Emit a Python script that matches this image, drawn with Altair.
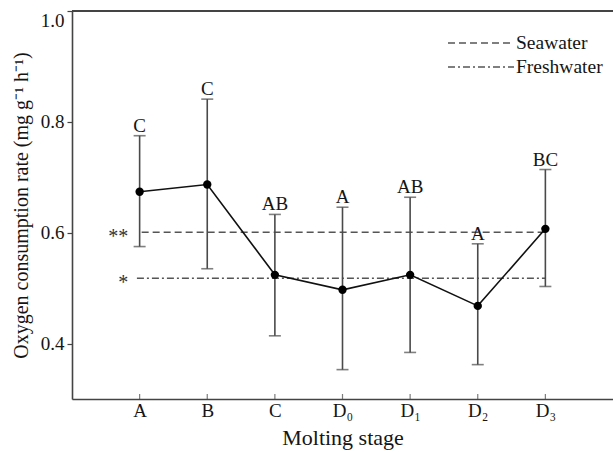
import altair as alt
import pandas as pd

stages = ["A", "B", "C", "D₀", "D₁", "D₂", "D₃"]
means = [0.674, 0.687, 0.524, 0.497, 0.524, 0.468, 0.607]
upper = [0.775, 0.841, 0.633, 0.646, 0.664, 0.580, 0.714]
lower = [0.575, 0.535, 0.414, 0.353, 0.384, 0.362, 0.503]
letters = ["C", "C", "AB", "A", "AB", "A", "BC"]

ref_names = ["Seawater", "Freshwater"]
ref_values = [0.601, 0.518]
ref_marks = ["**", "*"]
ref_start = [1.03, 0.96]
ref_end = [7, 7]
ref_dash = [[7, 4], [7, 3, 2, 3]]

FONT = "Liberation Serif"
TXT = "#151515"
idx = list(range(1, len(stages) + 1))
df = pd.DataFrame({"i": idx, "stage": stages, "mean": means, "hi": upper,
                   "lo": lower, "letter": letters})
ref = pd.DataFrame({"name": ref_names, "v": ref_values, "mark": ref_marks,
                    "x0": ref_start, "x1": ref_end})

label_expr = "[" + ",".join(["''"] + [f"'{s}'" for s in stages] + ["''"]) + "][datum.value]"

xs = alt.Scale(domain=[0, 8], nice=False, zero=False)
ys = alt.Scale(domain=[0.3, 1.0], nice=False, zero=False)

x_axis = alt.Axis(values=idx, labelExpr=label_expr, title="Molting stage",
                  tickSize=0, grid=False, labelPadding=2, titlePadding=7,
                  labelFontSize=19, titleFontSize=22, labelFont=FONT, titleFont=FONT,
                  labelColor=TXT, titleColor=TXT, titleFontWeight="normal",
                  domainColor="#444", domainWidth=1.6)
y_axis = alt.Axis(values=[0.4, 0.6, 0.8, 1.0], format=".1f",
                  title="Oxygen consumption rate (mg g⁻¹ h⁻¹)",
                  tickSize=5, tickColor="#444", tickWidth=1.2, grid=False,
                  labelPadding=3, titlePadding=9, labelFlush=True,
                  labelFontSize=19, titleFontSize=20, labelFont=FONT, titleFont=FONT,
                  labelColor=TXT, titleColor=TXT, titleFontWeight="normal",
                  domainColor="#444", domainWidth=1.6)

base = alt.Chart(df)

# frame top
top = base.mark_rule(color="#444", strokeWidth=1.6).encode(
    y=alt.datum(1.0, scale=ys, axis=y_axis))

# bottom inner ticks
xticks = base.mark_tick(orient="vertical", size=5, thickness=1.2, color="#444",
                        yOffset=-2.5).encode(
    x=alt.X("i:Q", scale=xs, axis=x_axis),
    y=alt.datum(0.3, scale=ys))

# reference lines
ref_layers = []
for k in range(len(ref_names)):
    sub = alt.Chart(ref.iloc[[k]]).mark_rule(color="#555", strokeWidth=1.5,
                                             strokeDash=ref_dash[k]).encode(
        x=alt.X("x0:Q", scale=xs), x2="x1:Q", y=alt.Y("v:Q", scale=ys))
    ref_layers.append(sub)

stars = alt.Chart(ref).mark_text(font=FONT, fontSize=20, align="right",
                                 baseline="middle", dy=5, color="#333").encode(
    x=alt.datum(0.83, scale=xs), y=alt.Y("v:Q", scale=ys), text="mark:N")

err = base.mark_rule(color="#4a4a4a", strokeWidth=1.6).encode(
    x=alt.X("i:Q", scale=xs), y=alt.Y("lo:Q", scale=ys), y2="hi:Q")
cap_hi = base.mark_tick(orient="horizontal", size=12, thickness=1.6,
                        color="#4a4a4a").encode(
    x=alt.X("i:Q", scale=xs), y=alt.Y("hi:Q", scale=ys))
cap_lo = base.mark_tick(orient="horizontal", size=12, thickness=1.6,
                        color="#4a4a4a").encode(
    x=alt.X("i:Q", scale=xs), y=alt.Y("lo:Q", scale=ys))

line = base.mark_line(color="#111", strokeWidth=1.6).encode(
    x=alt.X("i:Q", scale=xs), y=alt.Y("mean:Q", scale=ys))
pts = base.mark_circle(color="#000", size=70, opacity=1).encode(
    x=alt.X("i:Q", scale=xs), y=alt.Y("mean:Q", scale=ys))

lbl = base.mark_text(font=FONT, fontSize=19, baseline="bottom", dy=0,
                     color=TXT).encode(
    x=alt.X("i:Q", scale=xs), y=alt.Y("hi:Q", scale=ys), text="letter:N")

# legend
leg_layers = []
for k in range(len(ref_names)):
    yk = 32 + 24 * k
    leg_df = pd.DataFrame({"name": [ref_names[k]]})
    leg_layers.append(alt.Chart(leg_df).mark_rule(
        color="#555", strokeWidth=1.5, strokeDash=ref_dash[k]).encode(
        x=alt.value(376), x2=alt.value(442), y=alt.value(yk)))
    leg_layers.append(alt.Chart(leg_df).mark_text(
        font=FONT, fontSize=19.5, align="left", baseline="middle",
        color=TXT).encode(x=alt.value(444), y=alt.value(yk), text="name:N"))

chart = alt.layer(top, xticks, *ref_layers, stars, err, cap_hi, cap_lo, line,
                  pts, lbl, *leg_layers).properties(
    width=541, height=388,
    autosize=alt.AutoSizeParams(type="none"),
    padding={"left": 72, "top": 11, "right": 0, "bottom": 53},
).configure_view(stroke=None).configure(background="white")

chart.save("out.html", embed_options={"renderer": "svg", "actions": False})
